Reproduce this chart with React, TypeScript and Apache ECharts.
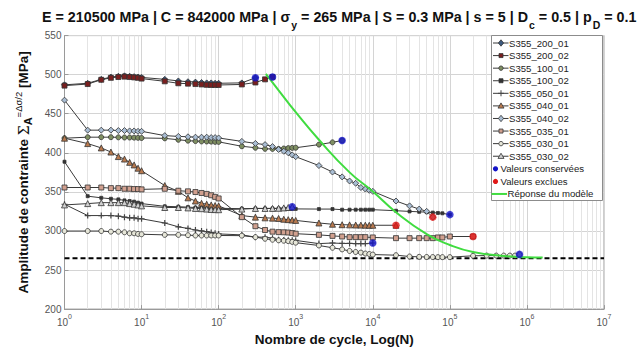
import React, { useEffect, useRef } from "react";
import * as echarts from "echarts";

const FONT = "'Liberation Sans', Arial, sans-serif";

// ---- data: [N cycles, amplitude MPa] ----
const S355_200_01: [number, number][] = [[1,487],[2,489],[3,494],[4,497],[5,498],[6,498.5],[7,498],[8,497.5],[9,497],[10,496.5],[20,494],[30,492],[40,491],[50,490.5],[60,490],[70,489.5],[80,489.5],[90,489],[100,489],[200,489.5],[300,496]];
const S355_200_02: [number, number][] = [[1,486],[2,488],[3,493.5],[4,496],[5,497],[6,497.5],[7,497],[8,496.5],[9,496],[10,495],[20,491.5],[30,489],[40,488.5],[50,488],[60,487.5],[70,487],[80,486.8],[90,486.8],[100,486.8],[200,487.5],[300,490],[400,494],[500,497]];
const S355_100_01: [number, number][] = [[1,418.7],[2,420],[3,420],[4,420],[5,419.8],[6,419.6],[7,419.6],[8,419.4],[9,419.2],[10,419],[20,418.5],[30,416.7],[40,415.5],[50,415],[60,414.6],[70,414.5],[80,414.3],[90,414],[100,414],[200,408.4],[300,406.5],[400,405.1],[500,405],[600,405],[700,405.5],[800,406],[900,406.3],[1000,406.5],[2000,410.5],[3000,413.4],[4000,415.8]];
const S355_100_02: [number, number][] = [[1,388.6],[2,344.5],[3,342.4],[4,341.2],[5,340.4],[6,339.1],[7,338.3],[8,337.5],[9,336.2],[10,335],[20,331.5],[30,331],[40,330.5],[50,330],[60,329.8],[70,329.5],[80,329.3],[90,329.1],[100,329],[200,328.5],[300,328.8],[400,328.8],[500,328.8],[600,328.8],[700,328.5],[800,328.5],[900,328.3],[1000,328.2],[2000,328],[3000,328],[4000,327.2],[5000,327.2],[6000,327.2],[7000,327.2],[8000,327.2],[9000,327.2],[10000,327.2],[20000,325.9],[30000,325],[40000,324.5],[50000,324],[60000,323.5],[70000,323],[80000,322.6],[100000,320.9]];
const S355_050_01: [number, number][] = [[1,334.2],[2,319.7],[3,319.7],[4,319.7],[5,318.9],[6,317.7],[7,316.8],[8,316.8],[9,315.6],[10,315.6],[20,310.2],[30,305.3],[40,303.2],[50,301.2],[60,300],[70,299.1],[80,298],[90,297],[100,296.2],[200,295],[300,292.1],[400,292.1],[500,290.8],[600,288.8],[700,288.5],[800,288.2],[900,288],[1000,287.9],[2000,283.8],[3000,284.6],[4000,284],[5000,284],[6000,283.8],[7000,283.8],[8000,283.8],[10000,284.6]];
const S355_040_01: [number, number][] = [[1,418.7],[2,411.8],[3,406.3],[4,401],[5,395.2],[6,392],[7,387.8],[8,384.5],[9,380.3],[10,377.1],[20,358.1],[30,350.7],[40,342.4],[50,338.3],[60,335.4],[70,334.2],[80,333.3],[90,332.5],[100,332.1],[200,319.7],[300,317.7],[400,316.8],[500,316.4],[600,316],[700,315],[800,314.5],[900,314],[1000,313.5],[2000,310.2],[3000,308.6],[4000,308],[5000,307.8],[6000,307.6],[7000,307.5],[8000,307.4],[9000,307.3],[10000,307.3],[20000,307.3]];
const S355_040_02: [number, number][] = [[1,467.4],[2,429],[3,429],[4,429],[5,428.5],[6,428.5],[7,428],[8,428],[9,427.5],[10,427.5],[20,422],[30,421],[40,420.5],[50,420],[60,420],[70,420],[80,419.5],[90,419.5],[100,419],[200,414.6],[300,412],[400,410.5],[500,408],[600,404.3],[700,402],[800,400],[900,397.3],[1000,395],[2000,383.7],[3000,375.4],[4000,369.2],[5000,363.9],[6000,361],[7000,355.6],[8000,353.6],[9000,352],[10000,350.7],[20000,338.3],[30000,332.1],[40000,328],[50000,325.1],[60000,317.7]];
const S355_035_01: [number, number][] = [[1,355.6],[2,355.6],[3,355.6],[4,354.8],[5,354.8],[6,354],[7,354],[8,353.6],[9,353.6],[10,353.2],[20,354],[30,351.5],[40,350.7],[50,349.8],[60,348.6],[70,347.4],[80,345.7],[90,343.6],[100,341.6],[200,317.7],[300,306.1],[400,301.2],[500,299.1],[600,298.5],[700,298.3],[800,298],[900,297.3],[1000,296.5],[2000,295],[3000,293.7],[4000,292.9],[5000,292.1],[6000,292.1],[7000,292.1],[8000,292.1],[10000,291.7],[20000,290.8],[30000,290.8],[40000,290.8],[50000,290.8],[60000,290.8],[70000,291.7],[80000,291.7],[100000,292.9],[200000,292.9]];
const S355_030_01: [number, number][] = [[1,299.9],[2,299.9],[3,299.9],[4,299.1],[5,299.1],[6,298.3],[7,297],[8,297],[9,296.2],[10,295.8],[20,295],[30,295],[40,294.6],[50,294.2],[60,294.2],[70,294.2],[80,294.2],[90,294.2],[100,294.2],[200,294],[300,292.1],[400,290],[500,288.8],[600,288],[700,287.5],[800,287],[900,286],[1000,285],[2000,281.4],[3000,278.5],[4000,276.4],[5000,274.4],[6000,273.1],[7000,272.3],[8000,271.1],[9000,270.5],[10000,269.8],[20000,269],[30000,267.3],[40000,266.9],[50000,266.7],[60000,266.6],[70000,266.5],[80000,266.5],[100000,266.5],[200000,268.2],[300000,268.5],[400000,268.5],[500000,268.5],[600000,268.5],[700000,268.5],[800000,270]];
const S355_030_02: [number, number][] = [[1,333.3],[2,335],[3,336.2],[4,336.2],[5,336.2],[6,336.2],[7,335],[8,334.2],[9,333.3],[10,332.1],[20,330],[30,330],[40,329.5],[50,328.8],[60,328.5],[70,328],[80,327.5],[90,327.3],[100,327.2],[200,328],[300,328.8],[400,328.8],[500,328.8],[600,329],[700,329.5],[800,330],[900,330.9]];

const KEPT: [number, number][] = [[300,496],[500,497],[900,330.9],[4000,415.8],[10000,284.6],[100000,320.9],[800000,270]];
const EXCLUDED: [number, number][] = [[20000,307.3],[60000,317.7],[200000,292.9]];
const MODEL: [number, number][] = [[410,501],[600,480],[1000,452],[2000,416.7],[5000,375],[10000,350.6],[20000,324],[50000,296],[100000,282],[200000,273],[500000,268],[1000000,266.3],[1600000,266]];
const LIMIT_Y = 265;
const X_RANGE = [1, 1e7];
const Y_TICKS = [200, 250, 300, 350, 400, 450, 500, 550];
const MINOR_MULT = [2, 3, 4, 5, 6, 7, 8, 9];
const DECADES = [1, 10, 100, 1000, 10000, 100000, 1000000];

const KEPT_NAME = "Valeurs conservées";
const EXCL_NAME = "Valeurs exclues";
const MODEL_NAME = "Réponse du modèle";
const BLUE = "#1414c8";
const RED = "#e01818";
const GREEN = "#40dc40";
const LINE_C = "#3a3a3a";

const PLUS = "path://M4,0h2v10h-2zM0,4h10v2h-10z";

const SPECS = [
  { name: "S355_200_01", data: S355_200_01, symbol: "diamond", size: 6, fill: "#3d5a80" },
  { name: "S355_200_02", data: S355_200_02, symbol: "rect", size: 5, fill: "#7a1f1f" },
  { name: "S355_100_01", data: S355_100_01, symbol: "circle", size: 5, fill: "#7f8f62" },
  { name: "S355_100_02", data: S355_100_02, symbol: "rect", size: 3, fill: "#333333" },
  { name: "S355_050_01", data: S355_050_01, symbol: PLUS, size: 6, fill: "#444444" },
  { name: "S355_040_01", data: S355_040_01, symbol: "triangle", size: 6, fill: "#b8794e" },
  { name: "S355_040_02", data: S355_040_02, symbol: "diamond", size: 6, fill: "#a9bdd3" },
  { name: "S355_035_01", data: S355_035_01, symbol: "rect", size: 5, fill: "#d1a08f" },
  { name: "S355_030_01", data: S355_030_01, symbol: "circle", size: 5, fill: "#e6e6d8" },
  { name: "S355_030_02", data: S355_030_02, symbol: "triangle", size: 6, fill: "#cfcfcf" },
];

const LZ = 100;

function markerGraphic(symbol: string, x: number, y: number, fill: string): any[] {
  const st = { fill, stroke: "#333", lineWidth: 0.8 };
  if (symbol === "diamond") return [{ type: "polygon", z: LZ + 2, shape: { points: [[x, y - 3.2], [x + 2.6, y], [x, y + 3.2], [x - 2.6, y]] }, style: st }];
  if (symbol === "rect") return [{ type: "rect", z: LZ + 2, shape: { x: x - 2, y: y - 2, width: 4, height: 4 }, style: st }];
  if (symbol === "circle") return [{ type: "circle", z: LZ + 2, shape: { cx: x, cy: y, r: 2.2 }, style: st }];
  if (symbol === "triangle") return [{ type: "polygon", z: LZ + 2, shape: { points: [[x, y - 3], [x + 3, y + 2.2], [x - 3, y + 2.2]] }, style: st }];
  return [
    { type: "rect", z: LZ + 2, shape: { x: x - 0.5, y: y - 3, width: 1, height: 6 }, style: { fill } },
    { type: "rect", z: LZ + 2, shape: { x: x - 3, y: y - 0.5, width: 6, height: 1 }, style: { fill } },
  ];
}

function buildLegend(): any[] {
  const top = 43;
  const step = 12.58;
  const font = `9.6px ${FONT}`;
  const els: any[] = [
    { type: "rect", z: LZ, shape: { x: 491.5, y: 35.5, width: 111, height: 165 }, style: { fill: "#fff", stroke: "#8c8c8c", lineWidth: 1 } },
  ];
  const txt = (text: string, x: number, y: number) => ({
    type: "text",
    z: LZ + 3,
    x,
    y,
    style: { text, font, fill: "#222", textAlign: "left", textVerticalAlign: "middle", align: "left", verticalAlign: "middle" },
  });
  SPECS.forEach((s, i) => {
    const y = top + i * step;
    els.push({ type: "line", z: LZ + 1, shape: { x1: 493, y1: y, x2: 508.5, y2: y }, style: { stroke: LINE_C, lineWidth: 1 } });
    els.push(...markerGraphic(s.symbol, 501, y, s.fill));
    els.push(txt(s.name, 509, y));
  });
  let y = top + SPECS.length * step;
  els.push({ type: "circle", z: LZ + 2, shape: { cx: 495.5, cy: y, r: 2.6 }, style: { fill: BLUE } });
  els.push(txt(KEPT_NAME, 500.5, y));
  y += step;
  els.push({ type: "circle", z: LZ + 2, shape: { cx: 495.5, cy: y, r: 2.6 }, style: { fill: RED } });
  els.push(txt(EXCL_NAME, 500.5, y));
  y += step;
  els.push({ type: "line", z: LZ + 1, shape: { x1: 491.5, y1: y, x2: 507, y2: y }, style: { stroke: GREEN, lineWidth: 2 } });
  els.push(txt(MODEL_NAME, 507.5, y));
  return els;
}

export default function App() {
  const ref = useRef<HTMLDivElement>(null);
  useEffect(() => {
    if (!ref.current) return;
    const chart = echarts.init(ref.current, undefined, { renderer: "svg" });
    const minorLines: any[] = [];
    DECADES.forEach((d) => MINOR_MULT.forEach((m) => minorLines.push({ xAxis: m * d })));

    const dataSeries = SPECS.map((s) => ({
      name: s.name,
      type: "line",
      data: s.data,
      symbol: s.symbol,
      symbolSize: s.size,
      showSymbol: true,
      lineStyle: { color: LINE_C, width: 1 },
      itemStyle: {
        color: s.fill,
        borderColor: s.symbol === PLUS ? s.fill : "#333",
        borderWidth: s.symbol === PLUS ? 0 : 0.8,
      },
      z: 3,
    }));

    const option: any = {
      animation: false,
      backgroundColor: "#fff",
      textStyle: { fontFamily: FONT },
      title: {
        left: 37,
        top: 3,
        text: "{t|E = 210500 MPa | C = 842000 MPa | σ}{s|y}{t| = 265 MPa | S = 0.3 MPa | s = 5 | D}{s|c}{t| = 0.5 | p}{s|D}{t| = 0.1}",
        textStyle: {
          rich: {
            t: { fontSize: 14.3, fontWeight: "bold", color: "#111", fontFamily: FONT, lineHeight: 22, verticalAlign: "top", padding: [2, 0, 0, 0] },
            s: { fontSize: 10.5, fontWeight: "bold", color: "#111", fontFamily: FONT, lineHeight: 22, verticalAlign: "bottom", padding: [0, 0, 0, 1] },
          },
        },
      },
      grid: { left: 64.5, right: 38, top: 35.6, bottom: 32.6, show: true, borderColor: "#9a9a9a", borderWidth: 1, backgroundColor: "transparent" },
      graphic: buildLegend(),
      xAxis: {
        type: "log",
        logBase: 10,
        min: X_RANGE[0],
        max: X_RANGE[1],
        splitNumber: 7,
        name: "Nombre de cycle, Log(N)",
        nameLocation: "middle",
        nameGap: 16,
        nameTextStyle: { fontSize: 13.5, fontWeight: "bold", color: "#111", fontFamily: FONT },
        axisLine: { lineStyle: { color: "#9a9a9a" } },
        axisTick: { inside: true, length: 4, lineStyle: { color: "#9a9a9a" } },
        splitLine: { show: true, lineStyle: { color: "#d4d4d4", width: 1 } },
        axisLabel: {
          margin: 4,
          color: "#555",
          formatter: (v: number) => `{b|10}{e|${Math.round(Math.log10(v))}}`,
          rich: {
            b: { fontSize: 10, color: "#555", fontFamily: FONT, verticalAlign: "bottom", lineHeight: 14 },
            e: { fontSize: 7, color: "#555", fontFamily: FONT, verticalAlign: "top", lineHeight: 14 },
          },
        },
      },
      yAxis: {
        type: "value",
        min: Y_TICKS[0],
        max: Y_TICKS[Y_TICKS.length - 1],
        interval: 50,
        name: "{b|Amplitude de contrainte }{g|Σ}{sub|A}{sup|=Δσ/2}{b| [MPa]}",
        nameLocation: "middle",
        nameGap: 27,
        nameTextStyle: {
          rich: {
            b: { fontSize: 13.5, fontWeight: "bold", color: "#111", fontFamily: FONT, lineHeight: 20, verticalAlign: "middle" },
            g: { fontSize: 14, color: "#111", fontFamily: "'DejaVu Serif', serif", lineHeight: 20, verticalAlign: "middle" },
            sub: { fontSize: 11, fontWeight: "bold", color: "#111", fontFamily: FONT, lineHeight: 20, verticalAlign: "bottom" },
            sup: { fontSize: 9.5, color: "#111", fontFamily: FONT, lineHeight: 20, verticalAlign: "top" },
          },
        },
        axisLine: { show: true, lineStyle: { color: "#9a9a9a" } },
        axisTick: { show: true, inside: true, length: 4, lineStyle: { color: "#9a9a9a" } },
        splitLine: { show: true, lineStyle: { color: "#d4d4d4", width: 1 } },
        axisLabel: { margin: 3, fontSize: 10, color: "#555", fontFamily: FONT },
      },
      series: [
        {
          name: "__minor",
          type: "line",
          data: [],
          silent: true,
          z: 1,
          markLine: {
            z: 1,
            silent: true,
            symbol: "none",
            label: { show: false },
            lineStyle: { color: "#e4e4e4", width: 1, type: "solid" },
            data: minorLines,
          },
        },
        {
          name: "__limit",
          type: "line",
          data: [[X_RANGE[0], LIMIT_Y], [X_RANGE[1], LIMIT_Y]],
          symbol: "none",
          lineStyle: { color: "#000", width: 2, type: [5, 3] },
          z: 2,
        },
        ...dataSeries,
        {
          name: MODEL_NAME,
          type: "line",
          data: MODEL,
          smooth: true,
          symbol: "none",
          lineStyle: { color: GREEN, width: 2, type: "solid" },
          itemStyle: { color: GREEN },
          z: 4,
        },
        {
          name: KEPT_NAME,
          type: "scatter",
          data: KEPT,
          symbol: "circle",
          symbolSize: 7.5,
          itemStyle: { color: BLUE },
          z: 5,
        },
        {
          name: EXCL_NAME,
          type: "scatter",
          data: EXCLUDED,
          symbol: "circle",
          symbolSize: 7.5,
          itemStyle: { color: RED },
          z: 5,
        },
      ],
    };
    chart.setOption(option);
    return () => chart.dispose();
  }, []);
  return <div ref={ref} style={{ position: "fixed", left: 0, top: 0, width: 642, height: 351, background: "#fff" }} />;
}
